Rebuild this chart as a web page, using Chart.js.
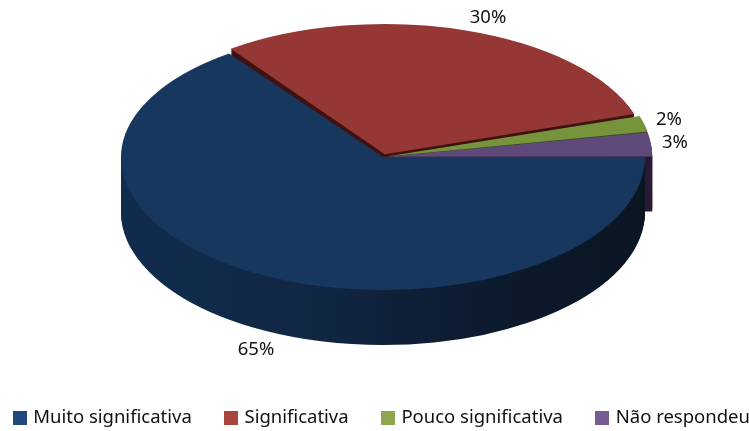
<!DOCTYPE html>
<html><head><meta charset="utf-8">
<script src="https://cdn.jsdelivr.net/npm/chart.js@4/dist/chart.umd.js"></script>
<style>html,body{margin:0;padding:0;background:#fff}canvas{display:block}</style>
</head><body><canvas id="c" width="749" height="431"></canvas>
<script>
const categories = ["Muito significativa", "Significativa", "Pouco significativa", "Não respondeu"];
const shares = [65, 30, 2, 3];
const topColors = ["#17375E", "#953735", "#77933C", "#5F497A"];
const legendColors = ["#1F497D", "#A8453F", "#8EA64C", "#775E91"];
const sideColors = [null, "#3E1412", "#3D4B1F", "#2A1A33"];
const blueSideStops = ["#112C4E", "#102845", "#0D1B30", "#0A1622"];
const sliceOffsets = [0, 24, 16, 16];

const CX = 383, CY = 157, RX = 262, DEPTH = 55;
const SQUASH_FRONT = 133 / 262, SQUASH_REAR = 128 / 262, SQUASH_BACK = 130 / 262;
const FONT = '18.5px "Noto Sans"';
const labelSpots = [[256, 350], [488, 18], [669, 120], [675, 143]];

function swatch(color) {
  const s = document.createElement('canvas');
  s.width = 14; s.height = 14;
  const g = s.getContext('2d');
  g.fillStyle = color; g.fillRect(0, 0, 14, 14);
  return s;
}

const pie3d = {
  id: 'pie3d',
  afterLayout(chart) {
    const lg = chart.legend;
    lg.left = -19.5; lg.right = 1000; lg.top = 373;
  },
  beforeDatasetDraw(chart, args) {
    const ctx = chart.ctx, arcs = args.meta.data;
    const ax = arcs[0].x, ay = arcs[0].y;
    const place = (dy, k) => {
      ctx.setTransform(1, 0, 0, k, CX - ax, CY + dy - ay * k);
    };
    const paint = (i, fill) => {
      const o = arcs[i].options, keep = o.backgroundColor;
      if (fill) o.backgroundColor = fill;
      arcs[i].draw(ctx);
      o.backgroundColor = keep;
    };
    const within = (top, bottom, body) => {
      ctx.save();
      ctx.setTransform(1, 0, 0, 1, 0, 0);
      ctx.beginPath(); ctx.rect(0, top, chart.width, bottom - top); ctx.clip();
      body();
      ctx.restore();
    };
    ctx.save();
    const grad = ctx.createLinearGradient(ax - RX, 0, ax + RX, 0);
    blueSideStops.forEach((c, i) => grad.addColorStop(i / (blueSideStops.length - 1), c));
    const back = [1, 2, 3];
    for (let d = DEPTH; d >= 1; d--) { place(d, SQUASH_BACK); back.forEach(i => paint(i, sideColors[i])); }
    place(0, SQUASH_BACK); back.forEach(i => paint(i));
    within(CY, chart.height, () => {
      for (let d = DEPTH; d >= 1; d--) { place(d, SQUASH_FRONT); paint(0, grad); }
      place(0, SQUASH_FRONT); paint(0);
    });
    within(0, CY, () => { place(0, SQUASH_REAR); paint(0); });
    ctx.restore();

    ctx.save();
    ctx.font = FONT; ctx.fillStyle = '#111'; ctx.textAlign = 'center'; ctx.textBaseline = 'middle';
    shares.forEach((v, i) => ctx.fillText(v + '%', labelSpots[i][0], labelSpots[i][1]));
    ctx.restore();
    return false;
  }
};

new Chart(document.getElementById('c'), {
  type: 'pie',
  plugins: [pie3d],
  data: {
    labels: categories,
    datasets: [{
      data: shares,
      backgroundColor: topColors,
      borderWidth: 0,
      offset: sliceOffsets,
      radius: RX,
      clip: false
    }]
  },
  options: {
    responsive: false,
    animation: false,
    rotation: 90,
    plugins: {
      tooltip: { enabled: false },
      legend: {
        position: 'bottom',
        align: 'start',
        labels: {
          color: '#111',
          font: { family: '"Noto Sans"', size: 18.5 },
          boxWidth: 8,
          usePointStyle: true,
          pointStyleWidth: 8,
          padding: 35.5,
          generateLabels: () => categories.map((t, i) => ({
            text: t, fillStyle: legendColors[i], strokeStyle: legendColors[i], lineWidth: 0,
            pointStyle: swatch(legendColors[i]), hidden: false, index: i, fontColor: '#111'
          }))
        }
      }
    }
  }
});
</script></body></html>
